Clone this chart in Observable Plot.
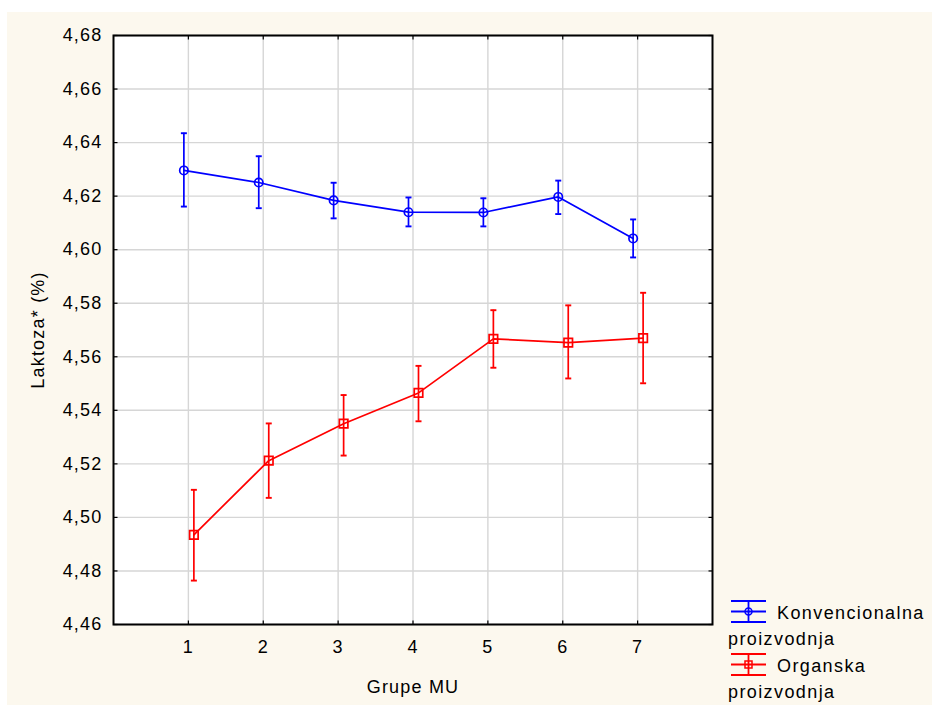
<!DOCTYPE html>
<html>
<head>
<meta charset="utf-8">
<script src="https://cdn.jsdelivr.net/npm/d3@7"></script>
<script src="https://cdn.jsdelivr.net/npm/@observablehq/plot@0.6"></script>
<style>
  html, body { margin: 0; padding: 0; background: #ffffff; }
  #wrap { position: relative; width: 932px; height: 705px; overflow: hidden; }
  #chart { position: absolute; left: 7px; top: 12px; }
  #legend {
    position: absolute; left: 728px; top: 600px; width: 204px;
    font-family: "Liberation Sans", Arial, sans-serif; font-size: 18px;
    letter-spacing: 1.4px; line-height: 26.3px; color: #000;
  }
  #legend svg { vertical-align: -4px; margin-left: 3px; margin-right: 10px; }
</style>
</head>
<body>
<div id="wrap">
  <div id="chart"></div>
  <div id="legend"></div>
</div>
<script>
// ---- data ----
const groups = [1, 2, 3, 4, 5, 6, 7];
const yTicks = [4.46, 4.48, 4.50, 4.52, 4.54, 4.56, 4.58, 4.60, 4.62, 4.64, 4.66, 4.68];

const konvMean = [4.6296, 4.6251, 4.6184, 4.6140, 4.6139, 4.6197, 4.6042];
const konvLow  = [4.6161, 4.6155, 4.6117, 4.6087, 4.6087, 4.6133, 4.5971];
const konvHigh = [4.6435, 4.6349, 4.6250, 4.6195, 4.6192, 4.6258, 4.6113];

const orgMean = [4.4935, 4.5212, 4.5350, 4.5465, 4.5667, 4.5653, 4.5670];
const orgLow  = [4.4764, 4.5073, 4.5231, 4.5359, 4.5559, 4.5519, 4.5501];
const orgHigh = [4.5103, 4.5351, 4.5457, 4.5566, 4.5774, 4.5792, 4.5839];

const seriesNames = ["Konvencionalna proizvodnja", "Organska proizvodnja"];
const xLabel = "Grupe MU";
const yLabel = "Laktoza* (%)";

// ---- build tables ----
const konv = groups.map((g, i) => ({g, m: konvMean[i], lo: konvLow[i], hi: konvHigh[i]}));
const org = groups.map((g, i) => ({g, m: orgMean[i], lo: orgLow[i], hi: orgHigh[i]}));

const cap = {draw(ctx) { ctx.moveTo(-3, 0); ctx.lineTo(3, 0); }};
const tickUp = {draw(ctx) { ctx.moveTo(0, 0); ctx.lineTo(0, -4); }};
const tickDown = {draw(ctx) { ctx.moveTo(0, 0); ctx.lineTo(0, 4); }};
const tickRight = {draw(ctx) { ctx.moveTo(0, 0); ctx.lineTo(4, 0); }};
const tickLeft = {draw(ctx) { ctx.moveTo(0, 0); ctx.lineTo(-4, 0); }};

function seriesMarks(data, color, symbol, r, dx) {
  return [
    Plot.ruleX(data, {x: "g", y1: "lo", y2: "hi", stroke: color, strokeWidth: 1.7, dx}),
    Plot.dot(data, {x: "g", y: "lo", symbol: cap, stroke: color, strokeWidth: 1.9, dx}),
    Plot.dot(data, {x: "g", y: "hi", symbol: cap, stroke: color, strokeWidth: 1.9, dx}),
    Plot.line(data, {x: "g", y: "m", stroke: color, strokeWidth: 1.7, dx}),
    Plot.dot(data, {x: "g", y: "m", symbol, r, stroke: color, fill: "none", strokeWidth: 1.7, dx})
  ];
}

const fmt = d => d.toFixed(2).replace(".", ",");

const chart = Plot.plot({
  width: 925,
  height: 693,
  marginLeft: 106,
  marginTop: 23,
  marginRight: 220,
  marginBottom: 81,
  style: {
    background: "#fcf8ee",
    fontFamily: "'Liberation Sans', Arial, sans-serif",
    fontSize: "18px",
    letterSpacing: "1.2px",
    color: "#000",
    overflow: "visible"
  },
  x: {domain: [0, 8]},
  y: {domain: [4.46, 4.68]},
  marks: [
    Plot.frame({fill: "white", stroke: "none"}),
    Plot.gridX(groups, {stroke: "#d6d6d6", strokeOpacity: 1, strokeWidth: 1.4}),
    Plot.gridY(yTicks, {stroke: "#d6d6d6", strokeOpacity: 1, strokeWidth: 1.4}),
    Plot.dot(groups, {x: d => d, frameAnchor: "bottom", symbol: tickUp, stroke: "black", strokeWidth: 1.2}),
    Plot.dot(groups, {x: d => d, frameAnchor: "top", symbol: tickDown, stroke: "black", strokeWidth: 1.2}),
    Plot.dot(yTicks, {y: d => d, frameAnchor: "left", symbol: tickRight, stroke: "black", strokeWidth: 1.2}),
    Plot.dot(yTicks, {y: d => d, frameAnchor: "right", symbol: tickLeft, stroke: "black", strokeWidth: 1.2}),
    Plot.axisY(yTicks, {tickSize: 0, tickPadding: 11, tickFormat: fmt,
      label: yLabel, labelAnchor: "center", labelArrow: "none", labelOffset: 82}),
    Plot.axisX(groups, {tickSize: 0, tickPadding: 16, tickFormat: d => String(d),
      label: xLabel, labelAnchor: "center", labelArrow: "none", labelOffset: 68}),
    ...seriesMarks(konv, "#0000ff", "circle", 4.2, -4.5),
    ...seriesMarks(org, "#ff0000", "square", 4.8, 5.5),
    Plot.frame({stroke: "black", strokeWidth: 2})
  ]
});
document.getElementById("chart").append(chart);

// ---- legend ----
const colors = ["#0000ff", "#ff0000"];
const legend = d3.select("#legend");
seriesNames.forEach((name, i) => {
  const item = legend.append("div");
  const s = item.append("svg").attr("width", 36).attr("height", 23);
  const c = colors[i];
  [1, 11.5, 22].forEach(y => s.append("line").attr("x1", 0).attr("x2", 35).attr("y1", y).attr("y2", y).attr("stroke", c).attr("stroke-width", 1.8));
  s.append("line").attr("x1", 17.5).attr("x2", 17.5).attr("y1", 1).attr("y2", 22).attr("stroke", c).attr("stroke-width", 1.8);
  if (i === 0) s.append("circle").attr("cx", 17.5).attr("cy", 11.5).attr("r", 3.5).attr("fill", "none").attr("stroke", c).attr("stroke-width", 1.5);
  else s.append("rect").attr("x", 14).attr("y", 8).attr("width", 7).attr("height", 7).attr("fill", "none").attr("stroke", c).attr("stroke-width", 1.5);
  item.append("span").text(name);
});
</script>
</body>
</html>
